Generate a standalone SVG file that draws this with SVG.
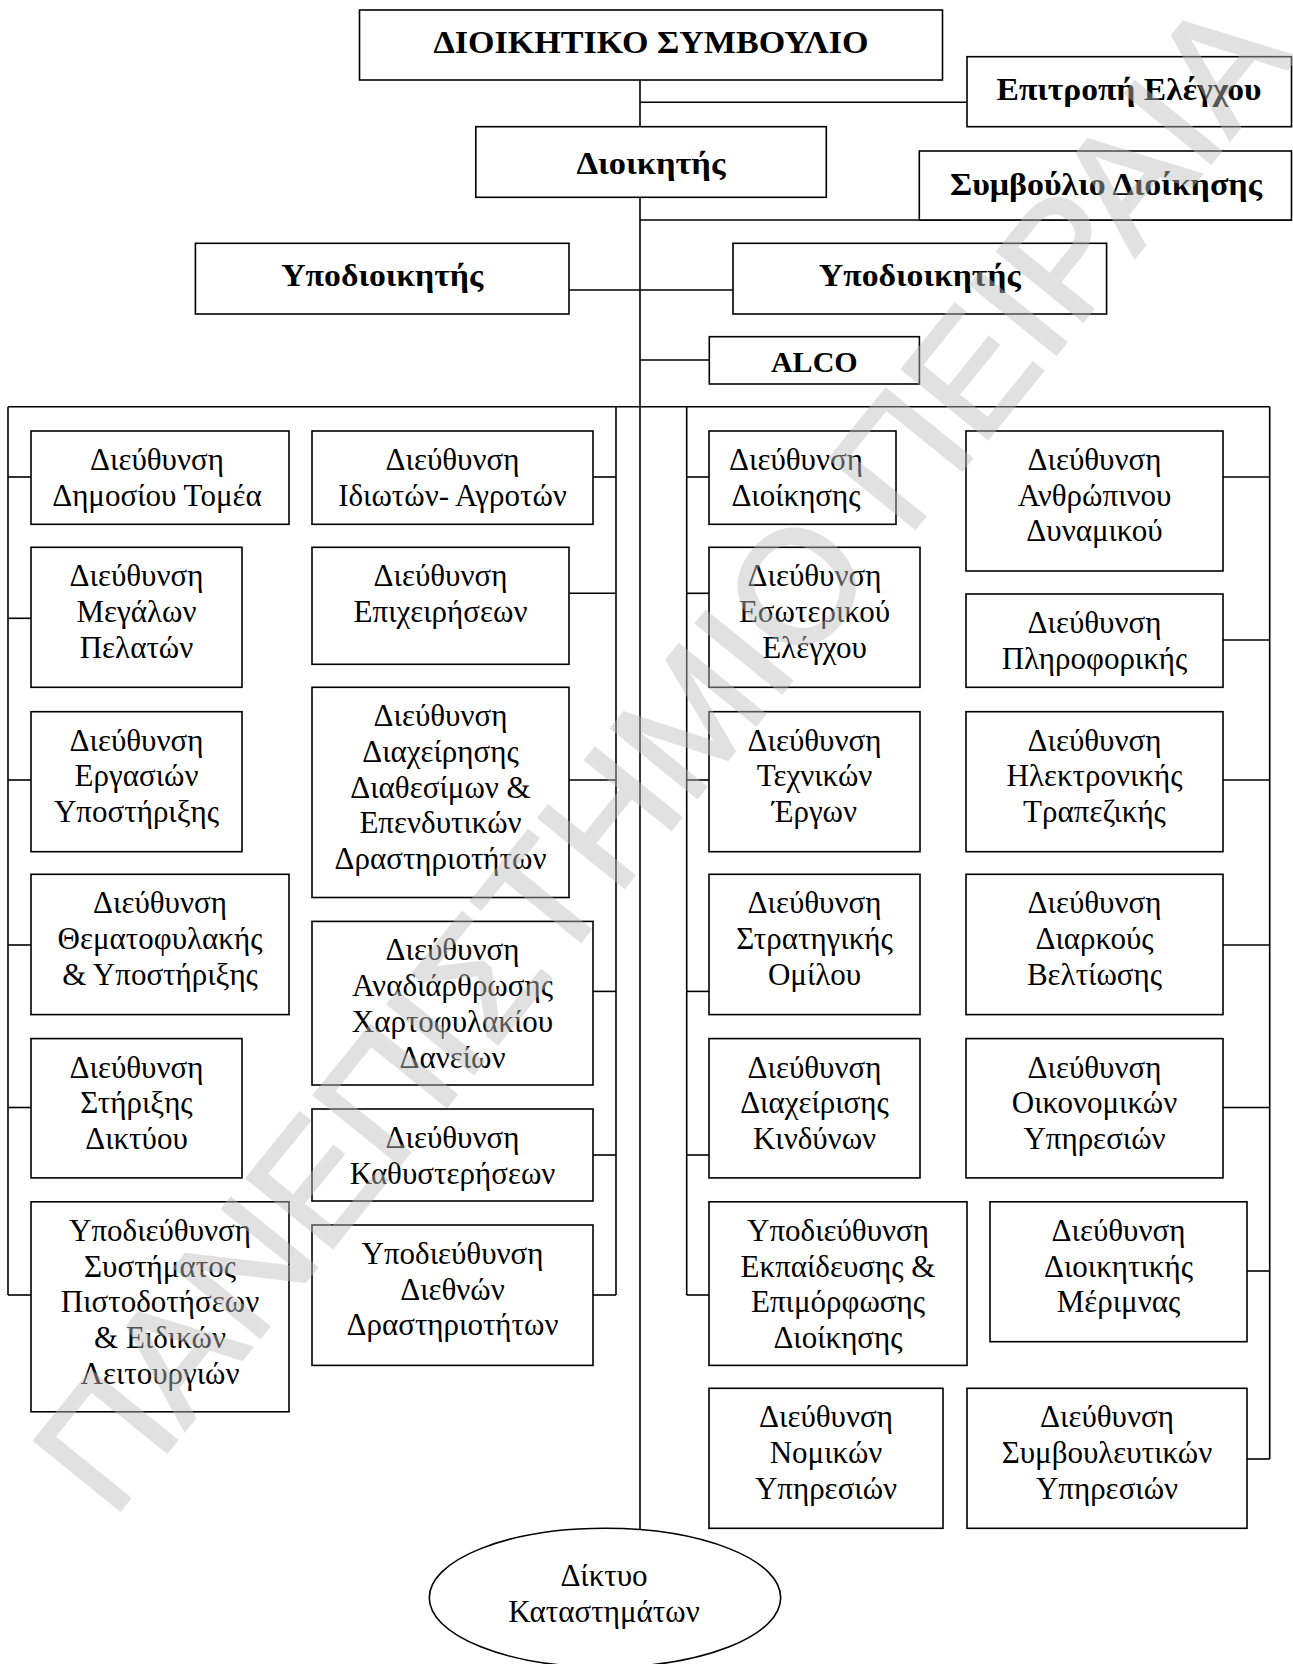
<svg xmlns="http://www.w3.org/2000/svg" width="1293" height="1664" viewBox="0 0 1293 1664">
<style>
.bx{fill:#fff;stroke:#000;stroke-width:1.6}
.ln{fill:none;stroke:#000;stroke-width:1.6}
.t{font-family:"Liberation Serif","Times New Roman",serif;font-size:31px;text-anchor:middle;fill:#000}
.b{font-weight:bold;font-size:31px}
.wm{font-family:"Liberation Sans",Arial,sans-serif;font-size:160px;fill:#bdbdbd;stroke:#bdbdbd;stroke-width:3;opacity:0.45}
</style>
<rect width="1293" height="1664" fill="#fff"/>
<g id="connectors" class="ln">
<line x1="640" y1="80" x2="640" y2="1529"/>
<line x1="640" y1="102.3" x2="967" y2="102.3"/>
<line x1="640" y1="220" x2="1292" y2="220"/>
<line x1="569" y1="290" x2="733" y2="290"/>
<line x1="640" y1="360" x2="709.3" y2="360"/>
<line x1="8" y1="406.7" x2="1269.7" y2="406.7"/>
<line x1="8" y1="406.7" x2="8" y2="1295"/>
<line x1="616" y1="406.7" x2="616" y2="1295"/>
<line x1="686.7" y1="406.7" x2="686.7" y2="1295"/>
<line x1="1269.7" y1="406.7" x2="1269.7" y2="1459"/>
<line x1="8" y1="477" x2="31" y2="477"/>
<line x1="8" y1="618.3" x2="31" y2="618.3"/>
<line x1="8" y1="780" x2="31" y2="780"/>
<line x1="8" y1="945" x2="31" y2="945"/>
<line x1="8" y1="1107.5" x2="31" y2="1107.5"/>
<line x1="8" y1="1295" x2="31" y2="1295"/>
<line x1="593" y1="477" x2="616" y2="477"/>
<line x1="569" y1="593.3" x2="616" y2="593.3"/>
<line x1="569" y1="780" x2="616" y2="780"/>
<line x1="593" y1="991.4" x2="616" y2="991.4"/>
<line x1="593" y1="1155" x2="616" y2="1155"/>
<line x1="593" y1="1295" x2="616" y2="1295"/>
<line x1="686.7" y1="477" x2="709" y2="477"/>
<line x1="686.7" y1="593.3" x2="709" y2="593.3"/>
<line x1="686.7" y1="780" x2="709" y2="780"/>
<line x1="686.7" y1="991.4" x2="709" y2="991.4"/>
<line x1="686.7" y1="1155" x2="709" y2="1155"/>
<line x1="686.7" y1="1295" x2="709" y2="1295"/>
<line x1="1223" y1="477" x2="1269.7" y2="477"/>
<line x1="1223" y1="640" x2="1269.7" y2="640"/>
<line x1="1223" y1="780" x2="1269.7" y2="780"/>
<line x1="1223" y1="945" x2="1269.7" y2="945"/>
<line x1="1223" y1="1107.5" x2="1269.7" y2="1107.5"/>
<line x1="1247" y1="1271" x2="1269.7" y2="1271"/>
<line x1="1247" y1="1459" x2="1269.7" y2="1459"/>
</g>
<g id="board"><rect class="bx" x="359.5" y="10" width="583" height="70"/><text class="t b" x="651" y="53" textLength="435" lengthAdjust="spacingAndGlyphs">ΔΙΟΙΚΗΤΙΚΟ ΣΥΜΒΟΥΛΙΟ</text></g>
<g id="audit"><rect class="bx" x="967" y="56.7" width="324.5" height="70"/><text class="t b" x="1129" y="100" textLength="265" lengthAdjust="spacingAndGlyphs">Επιτροπή Ελέγχου</text></g>
<g id="governor"><rect class="bx" x="475.8" y="126.7" width="350.5" height="70.6"/><text class="t b" x="651" y="174" textLength="149" lengthAdjust="spacingAndGlyphs">Διοικητής</text></g>
<g id="mgmt-council"><rect class="bx" x="919.3" y="151" width="372.2" height="69"/><text class="t b" x="1106" y="195" textLength="312" lengthAdjust="spacingAndGlyphs">Συμβούλιο Διοίκησης</text></g>
<g id="deputy-left"><rect class="bx" x="195.4" y="243.3" width="373.6" height="70.7"/><text class="t b" x="382.2" y="285.5" textLength="202" lengthAdjust="spacingAndGlyphs">Υποδιοικητής</text></g>
<g id="deputy-right"><rect class="bx" x="733" y="243.3" width="373.6" height="70.7"/><text class="t b" x="919.8" y="285.5" textLength="202" lengthAdjust="spacingAndGlyphs">Υποδιοικητής</text></g>
<g id="alco"><rect class="bx" x="709.3" y="336.7" width="210.1" height="47.3"/><text class="t b" x="814.3" y="372" style="font-size:30px">ALCO</text></g>

<g id="d-public"><rect class="bx" x="31" y="431" width="258" height="93.3"/><text class="t" x="157" y="470"><tspan x="157">Διεύθυνση</tspan><tspan x="157" dy="35.7">Δημοσίου Τομέα</tspan></text></g>
<g id="d-large"><rect class="bx" x="31" y="547.3" width="211" height="140"/><text class="t" x="136.5" y="586.3"><tspan x="136.5">Διεύθυνση</tspan><tspan x="136.5" dy="35.7">Μεγάλων</tspan><tspan x="136.5" dy="35.7">Πελατών</tspan></text></g>
<g id="d-ops"><rect class="bx" x="31" y="711.7" width="211" height="140"/><text class="t" x="136.5" y="750.7"><tspan x="136.5">Διεύθυνση</tspan><tspan x="136.5" dy="35.7">Εργασιών</tspan><tspan x="136.5" dy="35.7">Υποστήριξης</tspan></text></g>
<g id="d-custody"><rect class="bx" x="31" y="874.3" width="258" height="140.3"/><text class="t" x="160" y="913.3"><tspan x="160">Διεύθυνση</tspan><tspan x="160" dy="35.7">Θεματοφυλακής</tspan><tspan x="160" dy="35.7">&amp; Υποστήριξης</tspan></text></g>
<g id="d-network"><rect class="bx" x="31" y="1038.6" width="211" height="139.3"/><text class="t" x="136.5" y="1077.6"><tspan x="136.5">Διεύθυνση</tspan><tspan x="136.5" dy="35.7">Στήριξης</tspan><tspan x="136.5" dy="35.7">Δικτύου</tspan></text></g>
<g id="sd-credit"><rect class="bx" x="31" y="1201.8" width="258" height="210"/><text class="t" x="160" y="1240.8"><tspan x="160">Υποδιεύθυνση</tspan><tspan x="160" dy="35.7">Συστήματος</tspan><tspan x="160" dy="35.7">Πιστοδοτήσεων</tspan><tspan x="160" dy="35.7">&amp; Ειδικών</tspan><tspan x="160" dy="35.7">Λειτουργιών</tspan></text></g>

<g id="d-private"><rect class="bx" x="312" y="431" width="281" height="93.3"/><text class="t" x="452.5" y="470"><tspan x="452.5">Διεύθυνση</tspan><tspan x="452.5" dy="35.7">Ιδιωτών- Αγροτών</tspan></text></g>
<g id="d-business"><rect class="bx" x="312" y="547.3" width="257" height="117"/><text class="t" x="440.5" y="586.3"><tspan x="440.5">Διεύθυνση</tspan><tspan x="440.5" dy="35.7">Επιχειρήσεων</tspan></text></g>
<g id="d-treasury"><rect class="bx" x="312" y="687.3" width="257" height="210.2"/><text class="t" x="440.5" y="726.3"><tspan x="440.5">Διεύθυνση</tspan><tspan x="440.5" dy="35.7">Διαχείρησης</tspan><tspan x="440.5" dy="35.7">Διαθεσίμων &amp;</tspan><tspan x="440.5" dy="35.7">Επενδυτικών</tspan><tspan x="440.5" dy="35.7">Δραστηριοτήτων</tspan></text></g>
<g id="d-restructuring"><rect class="bx" x="312" y="921.4" width="281" height="163.6"/><text class="t" x="452.5" y="960.4"><tspan x="452.5">Διεύθυνση</tspan><tspan x="452.5" dy="35.7">Αναδιάρθρωσης</tspan><tspan x="452.5" dy="35.7">Χαρτοφυλακίου</tspan><tspan x="452.5" dy="35.7">Δανείων</tspan></text></g>
<g id="d-arrears"><rect class="bx" x="312" y="1109" width="281" height="92"/><text class="t" x="452.5" y="1148"><tspan x="452.5">Διεύθυνση</tspan><tspan x="452.5" dy="35.7">Καθυστερήσεων</tspan></text></g>
<g id="sd-intl"><rect class="bx" x="312" y="1225" width="281" height="140.4"/><text class="t" x="452.5" y="1264"><tspan x="452.5">Υποδιεύθυνση</tspan><tspan x="452.5" dy="35.7">Διεθνών</tspan><tspan x="452.5" dy="35.7">Δραστηριοτήτων</tspan></text></g>

<g id="d-admin"><rect class="bx" x="709" y="431" width="187" height="93.3"/><text class="t" x="796" y="470"><tspan x="796">Διεύθυνση</tspan><tspan x="796" dy="35.7">Διοίκησης</tspan></text></g>
<g id="d-audit"><rect class="bx" x="709" y="547.3" width="211" height="140"/><text class="t" x="814.5" y="586.3"><tspan x="814.5">Διεύθυνση</tspan><tspan x="814.5" dy="35.7">Εσωτερικού</tspan><tspan x="814.5" dy="35.7">Ελέγχου</tspan></text></g>
<g id="d-works"><rect class="bx" x="709" y="711.7" width="211" height="140"/><text class="t" x="814.5" y="750.7"><tspan x="814.5">Διεύθυνση</tspan><tspan x="814.5" dy="35.7">Τεχνικών</tspan><tspan x="814.5" dy="35.7">Έργων</tspan></text></g>
<g id="d-strategy"><rect class="bx" x="709" y="874.3" width="211" height="140.3"/><text class="t" x="814.5" y="913.3"><tspan x="814.5">Διεύθυνση</tspan><tspan x="814.5" dy="35.7">Στρατηγικής</tspan><tspan x="814.5" dy="35.7">Ομίλου</tspan></text></g>
<g id="d-risk"><rect class="bx" x="709" y="1038.6" width="211" height="139.3"/><text class="t" x="814.5" y="1077.6"><tspan x="814.5">Διεύθυνση</tspan><tspan x="814.5" dy="35.7">Διαχείρισης</tspan><tspan x="814.5" dy="35.7">Κινδύνων</tspan></text></g>
<g id="sd-training"><rect class="bx" x="709" y="1201.8" width="258" height="163.6"/><text class="t" x="838" y="1240.8"><tspan x="838">Υποδιεύθυνση</tspan><tspan x="838" dy="35.7">Εκπαίδευσης &amp;</tspan><tspan x="838" dy="35.7">Επιμόρφωσης</tspan><tspan x="838" dy="35.7">Διοίκησης</tspan></text></g>
<g id="d-legal"><rect class="bx" x="709" y="1388.3" width="234" height="140"/><text class="t" x="826" y="1427.3"><tspan x="826">Διεύθυνση</tspan><tspan x="826" dy="35.7">Νομικών</tspan><tspan x="826" dy="35.7">Υπηρεσιών</tspan></text></g>

<g id="d-hr"><rect class="bx" x="966" y="431" width="257" height="140"/><text class="t" x="1094.5" y="470"><tspan x="1094.5">Διεύθυνση</tspan><tspan x="1094.5" dy="35.7">Ανθρώπινου</tspan><tspan x="1094.5" dy="35.7">Δυναμικού</tspan></text></g>
<g id="d-it"><rect class="bx" x="966" y="594" width="257" height="93.3"/><text class="t" x="1094.5" y="633"><tspan x="1094.5">Διεύθυνση</tspan><tspan x="1094.5" dy="35.7">Πληροφορικής</tspan></text></g>
<g id="d-ebanking"><rect class="bx" x="966" y="711.7" width="257" height="140"/><text class="t" x="1094.5" y="750.7"><tspan x="1094.5">Διεύθυνση</tspan><tspan x="1094.5" dy="35.7">Ηλεκτρονικής</tspan><tspan x="1094.5" dy="35.7">Τραπεζικής</tspan></text></g>
<g id="d-improvement"><rect class="bx" x="966" y="874.3" width="257" height="140.3"/><text class="t" x="1094.5" y="913.3"><tspan x="1094.5">Διεύθυνση</tspan><tspan x="1094.5" dy="35.7">Διαρκούς</tspan><tspan x="1094.5" dy="35.7">Βελτίωσης</tspan></text></g>
<g id="d-finance"><rect class="bx" x="966" y="1038.6" width="257" height="139.3"/><text class="t" x="1094.5" y="1077.6"><tspan x="1094.5">Διεύθυνση</tspan><tspan x="1094.5" dy="35.7">Οικονομικών</tspan><tspan x="1094.5" dy="35.7">Υπηρεσιών</tspan></text></g>
<g id="d-facilities"><rect class="bx" x="990" y="1201.8" width="257" height="139.9"/><text class="t" x="1118.5" y="1240.8"><tspan x="1118.5">Διεύθυνση</tspan><tspan x="1118.5" dy="35.7">Διοικητικής</tspan><tspan x="1118.5" dy="35.7">Μέριμνας</tspan></text></g>
<g id="d-advisory"><rect class="bx" x="967" y="1388.3" width="280" height="140"/><text class="t" x="1107" y="1427.3"><tspan x="1107">Διεύθυνση</tspan><tspan x="1107" dy="35.7">Συμβουλευτικών</tspan><tspan x="1107" dy="35.7">Υπηρεσιών</tspan></text></g>

<g id="branches"><ellipse class="bx" cx="605" cy="1597.7" rx="175.7" ry="69.4"/><text class="t" x="604" y="1585.5"><tspan x="604">Δίκτυο</tspan><tspan x="604" dy="36.7">Καταστημάτων</tspan></text></g>

<text class="wm" transform="translate(112 1520) rotate(-51)">ΠΑΝΕΠΙΣΤΗΜΙΟ ΠΕΙΡΑΙΑ</text>
</svg>
